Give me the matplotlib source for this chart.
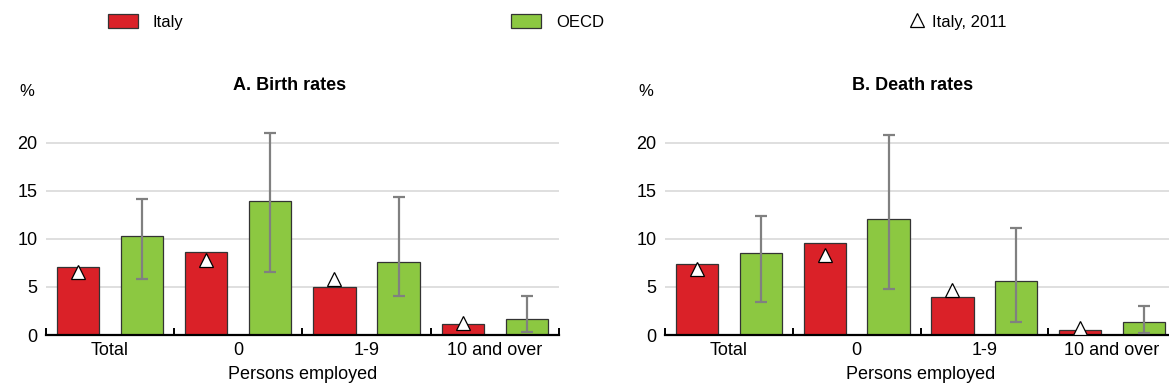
import numpy as np
import matplotlib.pyplot as plt
from matplotlib.ticker import FixedLocator

plt.rcParams["font.family"] = ["Liberation Sans Narrow", "Liberation Sans", "DejaVu Sans"]

# ============================================================
# DATA
# ============================================================

categories = ["Total", "0", "1-9", "10 and over"]

birth_italy = [7.1, 8.6, 5.0, 1.1]
birth_oecd = [10.3, 13.9, 7.6, 1.7]
birth_oecd_low = [5.8, 6.5, 4.1, 0.35]
birth_oecd_high = [14.1, 21.0, 14.3, 4.1]
birth_italy_2011 = [6.6, 7.8, 5.8, 1.2]

death_italy = [7.4, 9.6, 4.0, 0.5]
death_oecd = [8.5, 12.1, 5.6, 1.3]
death_oecd_low = [3.4, 4.8, 1.4, 0.2]
death_oecd_high = [12.4, 20.8, 11.1, 3.0]
death_italy_2011 = [6.9, 8.3, 4.7, 0.75]

RED = "#da2128"
GREEN = "#8cc841"
W, H = 1169, 391


def draw_panel(ax, title, title_x, italy, oecd, low, high, italy11):
    x = np.arange(len(categories))
    oecd = np.array(oecd)
    yerr = [oecd - np.array(low), np.array(high) - oecd]

    ax.yaxis.grid(True, color="#d9d9d9", linewidth=1.2, zorder=0)
    ax.set_axisbelow(True)

    b1 = ax.bar(x - 0.25, italy, width=0.33, color=RED, edgecolor="#333333",
                linewidth=0.9, zorder=2, label="Italy")
    b2 = ax.bar(x + 0.25, oecd, width=0.33, color=GREEN, edgecolor="#333333",
                linewidth=0.9, zorder=2, label="OECD")
    ax.errorbar(x + 0.25, oecd, yerr=yerr, fmt="none", ecolor="#808080",
                elinewidth=1.6, capsize=4, capthick=1.6, zorder=3)
    tri, = ax.plot(x - 0.25, italy11, linestyle="none", marker="^", markersize=10,
                   markerfacecolor="white", markeredgecolor="black",
                   markeredgewidth=0.9, zorder=4, label="Italy, 2011")

    ax.set_xlim(-0.5, len(categories) - 0.5)
    ax.set_ylim(0, 25)
    ax.set_yticks([0, 5, 10, 15, 20])
    ax.tick_params(axis="y", length=0, labelsize=13, pad=6)

    ax.set_xticks(x)
    ax.set_xticklabels(categories)
    ax.tick_params(axis="x", which="major", length=0, labelsize=13, pad=5)
    ax.xaxis.set_minor_locator(FixedLocator(np.arange(-0.5, len(categories), 1.0)))
    ax.tick_params(axis="x", which="minor", direction="in", length=5, width=1.4)
    ax.set_xlabel("Persons employed", fontsize=13, labelpad=5)

    for s in ["top", "right", "left"]:
        ax.spines[s].set_visible(False)
    ax.spines["bottom"].set_linewidth(1.6)

    ax.text(title_x, 1 - 85 / H, title, transform=ax.figure.transFigure,
            ha="center", va="center", fontsize=13, fontweight="bold")
    return b1, b2, tri


fig = plt.figure(figsize=(W / 100, H / 100), dpi=100)

bottom = (H - 335) / H
height = 25 * 9.62 / H
axA = fig.add_axes([45.7 / W, bottom, 513.3 / W, height])
axB = fig.add_axes([665 / W, bottom, 511 / W, height])

b1, b2, tri = draw_panel(axA, "A. Birth rates", 290 / W, birth_italy, birth_oecd,
                         birth_oecd_low, birth_oecd_high, birth_italy_2011)
draw_panel(axB, "B. Death rates", 913 / W, death_italy, death_oecd,
           death_oecd_low, death_oecd_high, death_italy_2011)

fig.text(27 / W, 1 - 92 / H, "%", ha="center", va="center", fontsize=12)
fig.text(646 / W, 1 - 92 / H, "%", ha="center", va="center", fontsize=12)

# ---- legend: three entries spread across the top ----
for handle, xpos, hlen, hpad in [(b1, 108, 1.8, 0.9), (b2, 511, 1.8, 0.9),
                                 (tri, 909, 1.0, 0.4)]:
    fig.legend([handle], [handle.get_label()], loc="center left",
               bbox_to_anchor=(xpos / W, 1 - 22 / H), frameon=False,
               fontsize=12, handlelength=hlen, handleheight=0.85,
               handletextpad=hpad, borderpad=0, borderaxespad=0)

fig.savefig("out.png", dpi=100)
